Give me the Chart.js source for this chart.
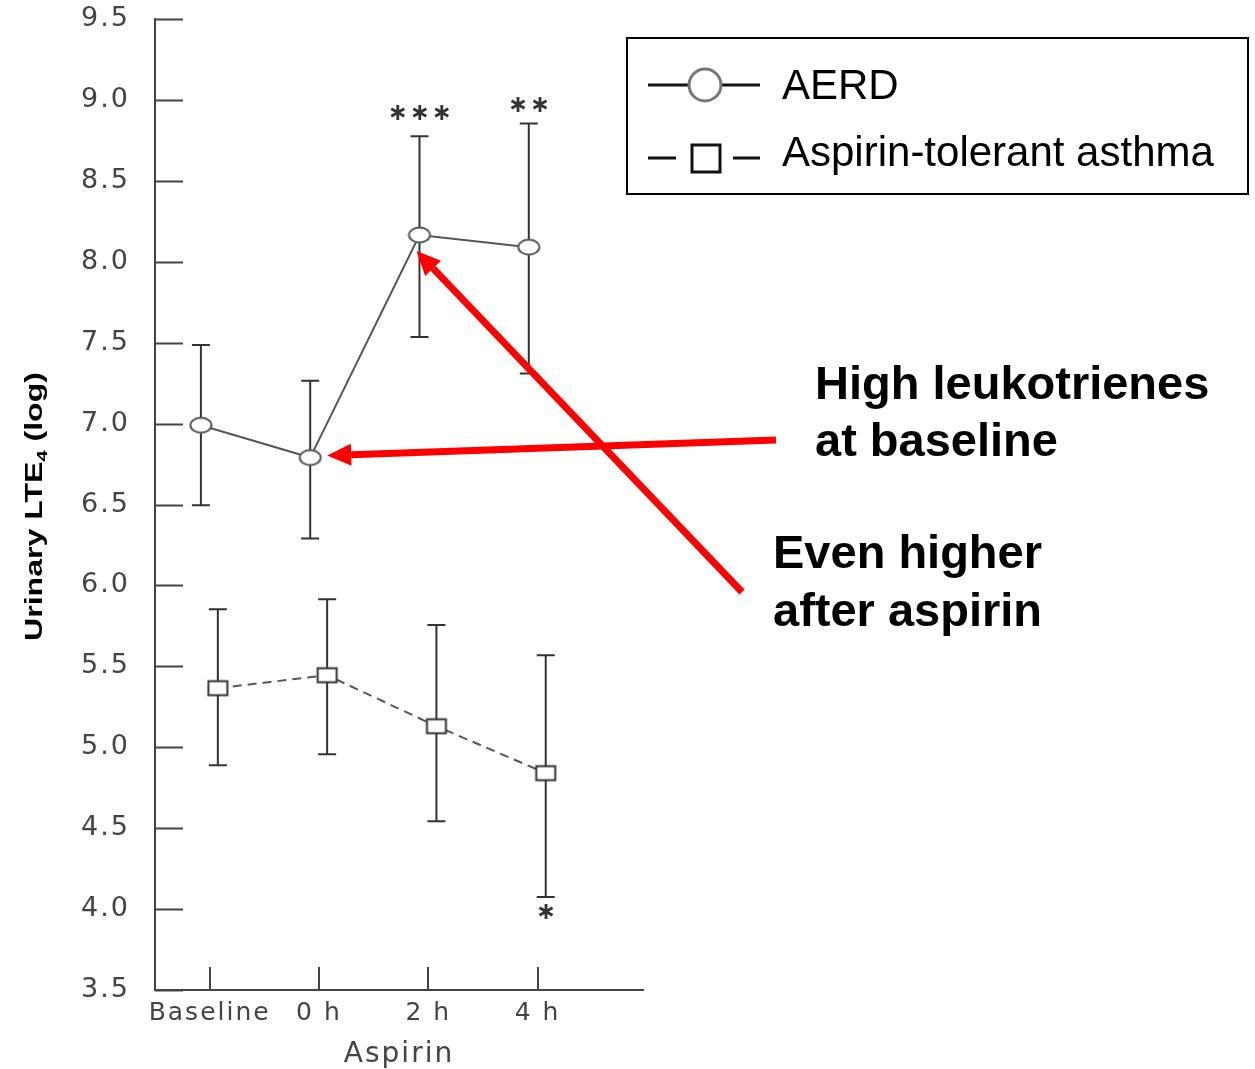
<!DOCTYPE html>
<html>
<head>
<meta charset="utf-8">
<script src="https://cdn.jsdelivr.net/npm/chart.js@4.4.1/dist/chart.umd.min.js"></script>
<style>
  body { margin: 0; background: #fff; }
  #c { display: block; }
</style>
</head>
<body>
<canvas id="c" width="1255" height="1069"></canvas>
<script>
// categories on the x axis
var categories = ['Baseline', '0 h', '2 h', '4 h'];

// AERD (mean, upper / lower end of error bar)
var aerdMean  = [6.99, 6.79, 8.165, 8.09];
var aerdUpper = [7.485, 7.265, 8.775, 8.855];
var aerdLower = [6.495, 6.29, 7.535, 7.31];

// aspirin-tolerant asthma
var tolMean  = [5.365, 5.445, 5.13, 4.84];
var tolUpper = [5.853, 5.915, 5.755, 5.569];
var tolLower = [4.889, 4.957, 4.543, 4.074];

// significance marks
var aerdStars = ['', '', '***', '**'];
var tolStars  = ['', '', '', '*'];

// small sideways shift of each series around the tick
var aerdShift = -0.08;
var tolShift = 0.075;

var yMin = 3.5, yMax = 9.5, yStep = 0.5;

function makeEllipse() {
    var c = document.createElement('canvas');
    c.width = 26; c.height = 20;
    var g = c.getContext('2d');
    g.beginPath();
    g.ellipse(13, 10, 10.5, 7.5, 0, 0, Math.PI * 2);
    g.fillStyle = '#fff';
    g.fill();
    g.lineWidth = 2;
    g.strokeStyle = '#555';
    g.stroke();
    return c;
}
function makeBox() {
    var c = document.createElement('canvas');
    c.width = 24; c.height = 19;
    var g = c.getContext('2d');
    g.fillStyle = '#fff';
    g.fillRect(2.5, 2.5, 19, 14);
    g.lineWidth = 2;
    g.strokeStyle = '#333';
    g.strokeRect(2.5, 2.5, 19, 14);
    return c;
}

function toPoints(vals, shift) {
    return vals.map(function (v, i) { return { x: i + shift, y: v }; });
}

// error bars under the markers
var errorBars = {
    id: 'errorBars',
    beforeDatasetsDraw: function (chart) {
        var ctx = chart.ctx, x = chart.scales.x, y = chart.scales.y;
        ctx.letterSpacing = '0px';
        ctx.save();
        ctx.strokeStyle = '#333';
        ctx.lineWidth = 2;
        chart.data.datasets.forEach(function (ds) {
            ds.data.forEach(function (p, i) {
                var px = x.getPixelForValue(p.x);
                var top = y.getPixelForValue(ds.upper[i]);
                var bot = y.getPixelForValue(ds.lower[i]);
                ctx.beginPath();
                ctx.moveTo(px, top); ctx.lineTo(px, bot);
                ctx.moveTo(px - 9, top); ctx.lineTo(px + 9, top);
                ctx.moveTo(px - 9, bot); ctx.lineTo(px + 9, bot);
                ctx.stroke();
            });
        });
        ctx.restore();
    }
};

// tick labels of the old figure are spaced out
var spacing = {
    id: 'spacing',
    beforeDraw: function (chart) { chart.ctx.letterSpacing = '2px'; }
};

function arrow(ctx, x1, y1, x2, y2) {
    var a = Math.atan2(y2 - y1, x2 - x1);
    var hl = 24, hw = 11;
    var bx = x2 - hl * Math.cos(a), by = y2 - hl * Math.sin(a);
    ctx.beginPath();
    ctx.moveTo(x1, y1);
    ctx.lineTo(bx, by);
    ctx.stroke();
    ctx.beginPath();
    ctx.moveTo(x2, y2);
    ctx.lineTo(bx + hw * Math.sin(a), by - hw * Math.cos(a));
    ctx.lineTo(bx - hw * Math.sin(a), by + hw * Math.cos(a));
    ctx.closePath();
    ctx.fill();
}

var extras = {
    id: 'extras',
    afterDraw: function (chart) {
        var ctx = chart.ctx, x = chart.scales.x, y = chart.scales.y;
        var area = chart.chartArea;
        ctx.save();
        ctx.letterSpacing = '0px';

        // inward tick marks
        ctx.strokeStyle = '#444';
        ctx.lineWidth = 2;
        ctx.beginPath();
        y.ticks.forEach(function (t) {
            var py = Math.round(y.getPixelForValue(t.value)) + 0.5;
            ctx.moveTo(area.left, py); ctx.lineTo(area.left + 28, py);
        });
        x.ticks.forEach(function (t) {
            var px = Math.round(x.getPixelForValue(t.value));
            ctx.moveTo(px, area.bottom); ctx.lineTo(px, area.bottom - 23);
        });
        ctx.stroke();

        // stars
        ctx.fillStyle = '#333';
        ctx.font = 'bold 24px "DejaVu Sans"';
        ctx.textAlign = 'center';
        ctx.textBaseline = 'middle';
        function stars(str, cx, cy) {
            var n = str.length;
            for (var k = 0; k < n; k++) {
                ctx.fillText('\u2217', cx + (k - (n - 1) / 2) * 22, cy);
            }
        }
        aerdStars.forEach(function (s, i) {
            if (!s) return;
            stars(s, x.getPixelForValue(i + aerdShift), y.getPixelForValue(aerdUpper[i]) - (s.length > 2 ? 23 : 18));
        });
        tolStars.forEach(function (s, i) {
            if (!s) return;
            stars(s, x.getPixelForValue(i + tolShift), y.getPixelForValue(tolLower[i]) + 16);
        });

        // y axis title with subscript
        ctx.fillStyle = '#000';
        ctx.textAlign = 'left';
        ctx.textBaseline = 'alphabetic';
        var big = 'bold 24px "Liberation Sans", Arial, sans-serif';
        var small = 'bold 15px "Liberation Sans", Arial, sans-serif';
        ctx.font = big;
        var w1 = ctx.measureText('Urinary LTE').width;
        var w3 = ctx.measureText(' (log)').width;
        ctx.font = small;
        var w2 = ctx.measureText('4').width;
        var s = 269 / (w1 + w2 + w3);
        ctx.translate(42, 641);
        ctx.rotate(-Math.PI / 2);
        ctx.scale(s, 1);
        ctx.font = big;
        ctx.fillText('Urinary LTE', 0, 0);
        ctx.font = small;
        ctx.fillText('4', w1, 5);
        ctx.font = big;
        ctx.fillText(' (log)', w1 + w2, 0);
        ctx.setTransform(1, 0, 0, 1, 0, 0);

        // legend box
        ctx.strokeStyle = '#000';
        ctx.lineWidth = 2;
        ctx.strokeRect(627, 38, 621, 156);
        var ds = chart.data.datasets;
        ctx.lineWidth = 3;
        ctx.strokeStyle = '#111';
        ctx.beginPath();
        ctx.moveTo(648, 85); ctx.lineTo(760, 85);
        ctx.stroke();
        ctx.beginPath();
        ctx.arc(705, 85, 16, 0, Math.PI * 2);
        ctx.fillStyle = '#fff';
        ctx.fill();
        ctx.strokeStyle = '#777';
        ctx.stroke();
        ctx.strokeStyle = '#111';
        ctx.beginPath();
        ctx.moveTo(648, 158); ctx.lineTo(676, 158);
        ctx.moveTo(733, 158); ctx.lineTo(760, 158);
        ctx.stroke();
        ctx.strokeRect(692, 145, 28, 27);
        ctx.fillStyle = '#000';
        ctx.font = '42px "Liberation Sans", Arial, sans-serif';
        ctx.fillText(ds[0].label, 782, 99);
        ctx.fillText(ds[1].label, 782, 166);

        // red arrows pointing at the AERD markers
        ctx.strokeStyle = '#ff0000';
        ctx.fillStyle = '#ff0000';
        ctx.lineWidth = 7;
        arrow(ctx, 776, 440, x.getPixelForValue(1 + aerdShift) + 17, y.getPixelForValue(aerdMean[1]) - 2);
        arrow(ctx, 742, 592, x.getPixelForValue(2 + aerdShift) - 3, y.getPixelForValue(aerdMean[2]) + 16);

        // annotation text
        ctx.fillStyle = '#000';
        ctx.font = 'bold 47px "Liberation Sans", Arial, sans-serif';
        ctx.fillText('High leukotrienes', 815, 399);
        ctx.fillText('at baseline', 815, 456);
        ctx.fillText('Even higher', 773, 568);
        ctx.fillText('after aspirin', 773, 626);
        ctx.restore();
    }
};

new Chart(document.getElementById('c'), {
    type: 'line',
    data: {
        datasets: [{
            label: 'AERD',
            data: toPoints(aerdMean, aerdShift),
            upper: aerdUpper,
            lower: aerdLower,
            borderColor: '#555',
            borderWidth: 2,
            pointStyle: makeEllipse(),
            pointRadius: 8,
            fill: false,
            tension: 0
        }, {
            label: 'Aspirin-tolerant asthma',
            data: toPoints(tolMean, tolShift),
            upper: tolUpper,
            lower: tolLower,
            borderColor: '#555',
            borderWidth: 2,
            borderDash: [9, 6],
            pointStyle: makeBox(),
            pointRadius: 8,
            fill: false,
            tension: 0
        }]
    },
    options: {
        responsive: false,
        animation: false,
        devicePixelRatio: 1,
        layout: { padding: { left: 0, top: 19, right: 612, bottom: 0 } },
        plugins: { legend: { display: false }, tooltip: { enabled: false } },
        scales: {
            x: {
                type: 'linear',
                min: -0.5,
                max: 3.965,
                afterFit: function (s) {
                    s.height = 79;
                    s.paddingLeft = 0; s.paddingRight = 0;
                },
                afterBuildTicks: function (axis) {
                    axis.ticks = categories.map(function (c, i) { return { value: i }; });
                },
                grid: { display: false, drawTicks: false },
                border: { display: true, color: '#444', width: 2 },
                ticks: {
                    autoSkip: false,
                    maxRotation: 0,
                    padding: 8,
                    color: '#444',
                    font: { family: '"DejaVu Sans", sans-serif', size: 25 },
                    callback: function (v) { return categories[v]; }
                },
                title: {
                    display: true,
                    text: 'Aspirin',
                    color: '#444',
                    font: { family: '"DejaVu Sans", sans-serif', size: 28 },
                    padding: { top: 0, bottom: -3 }
                }
            },
            y: {
                min: yMin,
                max: yMax,
                afterFit: function (s) {
                    s.width = 155;
                    s.paddingTop = 0; s.paddingBottom = 0;
                },
                grid: { display: false, drawTicks: false },
                border: { display: true, color: '#444', width: 2 },
                ticks: {
                    stepSize: yStep,
                    padding: 25,
                    color: '#444',
                    font: { family: '"DejaVu Sans", sans-serif', size: 27 },
                    callback: function (v) { return v.toFixed(1); }
                }
            }
        }
    },
    plugins: [spacing, errorBars, extras]
});
</script>
</body>
</html>
